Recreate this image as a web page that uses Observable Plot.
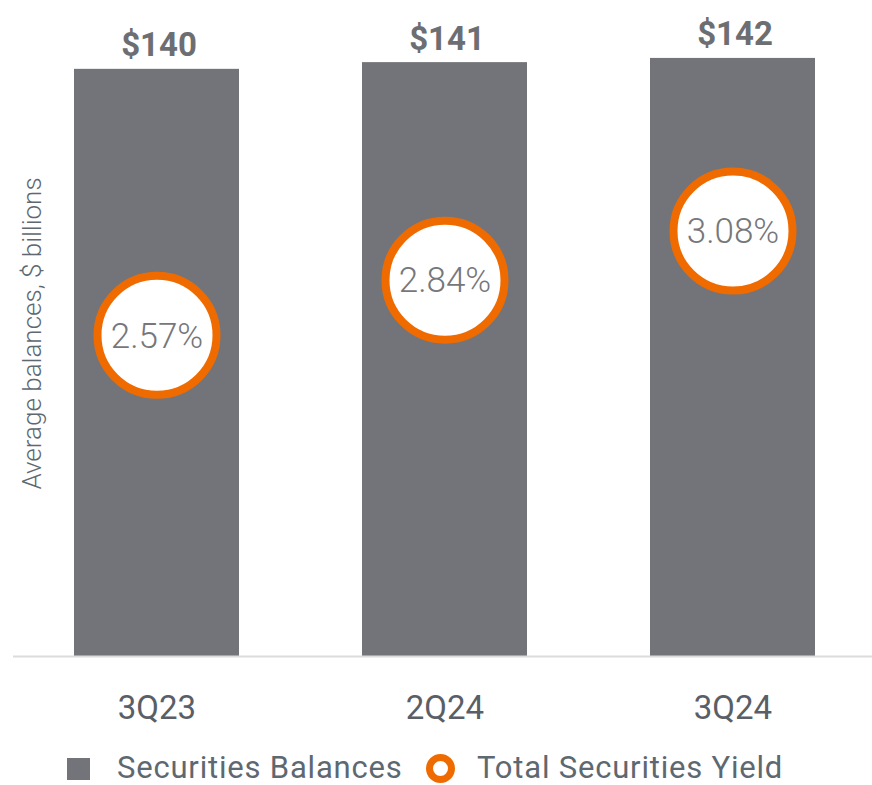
<!DOCTYPE html>
<html>
<head>
<meta charset="utf-8">
<script src="https://cdn.jsdelivr.net/npm/d3@7"></script>
<script src="https://cdn.jsdelivr.net/npm/@observablehq/plot@0.6"></script>
<style>
  html, body { margin: 0; padding: 0; background: #fff; }
  #wrap { position: relative; width: 872px; height: 785px; font-family: Roboto, sans-serif; }
  .legend { position: absolute; top: 740px; left: 0; width: 872px; height: 45px; }
  .legend span { position: absolute; }
  .lbl { font-size: 31px; letter-spacing: 0.8px; color: #5e6870; top: 13px; line-height: 30px; height: 30px; white-space: nowrap; }
</style>
</head>
<body>
<div id="wrap"></div>
<script>
const quarters = ["3Q23", "2Q24", "3Q24"];
const balances = [139.8, 141.4, 142.4];           // $ billions (bar heights)
const balanceLabels = ["$140", "$141", "$142"];
const yields = [2.57, 2.84, 3.08];                  // %
const yieldLabels = ["2.57%", "2.84%", "3.08%"];
const yAxisTitle = "Average balances, $ billions";
const legendLabels = ["Securities Balances", "Total Securities Yield"];

const gray = "#737479";
const orange = "#ef6b00";

// secondary (yield) axis mapped onto the balance scale
const yieldToBalance = d3.scaleLinear().domain([1, 4.08]).range([0, 150]);

const data = quarters.map((q, i) => ({
  q, bal: balances[i], balLabel: balanceLabels[i],
  yld: yields[i], yPos: yieldToBalance(yields[i]), yldLabel: yieldLabels[i]
}));

const chart = Plot.plot({
  width: 872,
  height: 740,
  marginTop: 26,
  marginBottom: 84,
  marginLeft: 13,
  marginRight: 0,
  style: { fontFamily: "Roboto, sans-serif", background: "#fff" },
  x: { domain: quarters, range: [12.5, 876.5], paddingInner: 0.427, paddingOuter: 0.2135, label: null },
  y: { domain: [0, 150], axis: null },
  marks: [
    Plot.barY(data, { x: "q", y: "bal", fill: gray }),
    Plot.ruleY([0], { stroke: "#dcdcdc", strokeWidth: 2 }),
    Plot.text(data, { x: "q", y: "bal", text: "balLabel", lineAnchor: "bottom", dy: -13, dx: 2,
      fontSize: 33, fontWeight: 700, fill: "#6d6e72" }),
    Plot.dot(data, { x: "q", y: "yPos", r: 59.5, fill: "#fff", stroke: orange, strokeWidth: 8 }),
    Plot.text(data, { x: "q", y: "yPos", text: "yldLabel", fontSize: 35, fontWeight: 300, fill: "#76777b", dy: 1 }),
    Plot.axisX({ tickSize: 0, tickPadding: 39, fontSize: 33, fill: "#5a5e66", label: null }),
    Plot.text([yAxisTitle], { frameAnchor: "left", textAnchor: "middle", lineAnchor: "middle", rotate: -90, dx: 19, dy: -8,
      fontSize: 26, fontWeight: 300, fill: "#5e6870" })
  ]
});

const wrap = document.getElementById("wrap");
wrap.appendChild(chart);

const legend = document.createElement("div");
legend.className = "legend";
legend.innerHTML = `
  <span style="left:67px; top:18px; width:23px; height:22px; background:${gray}"></span>
  <span class="lbl" style="left:117px">${legendLabels[0]}</span>
  <span style="left:426px; top:14px; width:15px; height:15px; border:7px solid ${orange}; border-radius:50%; background:#fff"></span>
  <span class="lbl" style="left:477px">${legendLabels[1]}</span>
`;
wrap.appendChild(legend);
</script>
</body>
</html>
